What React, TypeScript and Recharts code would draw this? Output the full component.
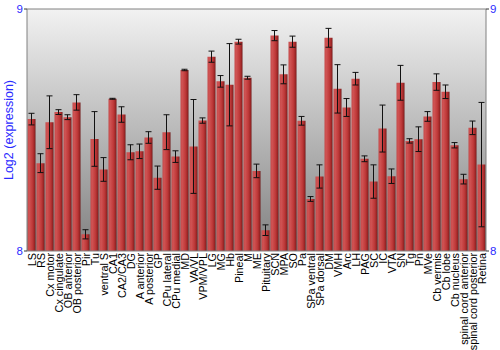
import React from 'react';
import { BarChart, Bar, XAxis, YAxis, ErrorBar, ReferenceLine, CartesianGrid } from 'recharts';

const categories = ['LS','RS','Cx motor','Cx cingulate','OB anterior','OB posterior','Pir','Tu','ventral S','CA1','CA2/CA3','DG','A anterior','A posterior','GP','CPu lateral','CPu medial','MD','VA/VL','VPM/VPL','LG','MG','Hb','Pineal','M','ME','Pituitary','SCN','MPA','SO','Pa','SPa ventral','SPa dorsal','DM','VMH','Arc','LH','PAG','SC','IC','VTA','SN','Tg','Pn','MVe','Cb vermis','Cb lobe','Cb nucleus','spinal cord anterior','spinal cord posterior','Retina'];

const values = [8.545,8.363,8.532,8.574,8.553,8.614,8.069,8.463,8.337,8.629,8.564,8.408,8.412,8.469,8.303,8.491,8.390,8.748,8.432,8.539,8.803,8.701,8.687,8.865,8.716,8.331,8.086,8.890,8.730,8.865,8.538,8.215,8.308,8.881,8.670,8.593,8.712,8.381,8.287,8.506,8.309,8.695,8.455,8.462,8.556,8.698,8.658,8.437,8.297,8.509,8.357];

const errors = [0.024,0.039,0.109,0.010,0.010,0.032,0.019,0.113,0.049,0.002,0.032,0.031,0.030,0.024,0.048,0.072,0.024,0.003,0.194,0.011,0.023,0.024,0.170,0.010,0.006,0.028,0.022,0.021,0.039,0.023,0.018,0.010,0.048,0.039,0.100,0.037,0.026,0.012,0.069,0.097,0.030,0.072,0.009,0.051,0.020,0.034,0.028,0.011,0.020,0.028,0.257];

const yTicks = [8, 9];

const data = categories.map((name, i) => ({ name, value: values[i], err: errors[i] }));

const FONT = '"Liberation Sans", Arial, sans-serif';
const BLUE = '#2b2bff';

const XTick = (props: any) => {
  const { x, y, payload } = props;
  return (
    <text
      x={x}
      y={y}
      transform={`rotate(-90, ${x}, ${y})`}
      textAnchor="end"
      dominantBaseline="central"
      fontSize={10.8}
      fontFamily={FONT}
      fill="#000"
    >
      {payload.value}
    </text>
  );
};

const YLabel = (props: any) => {
  const vb = props.viewBox || {};
  const cy = (vb.y ?? 9) + (vb.height ?? 242) / 2;
  return (
    <text
      x={9}
      y={cy}
      transform={`rotate(-90, 9, ${cy})`}
      textAnchor="middle"
      dominantBaseline="central"
      fontSize={12.5}
      fontFamily={FONT}
      fill={BLUE}
    >
      Log2 (expression)
    </text>
  );
};

export default function App() {
  return (
    <div style={{ position: 'absolute', left: 0, top: 0, width: 500, height: 350, background: '#fff' }}>
      <BarChart
        width={500}
        height={350}
        data={data}
        margin={{ top: 9, right: 0, bottom: 0, left: 0 }}
        barCategoryGap={0.5}
      >
        <defs>
          <linearGradient id="bgGrad" x1="0" y1="0" x2="0" y2="1">
            <stop offset="0%" stopColor="#f2f2f2" />
            <stop offset="100%" stopColor="#818181" />
          </linearGradient>
          <linearGradient id="barGrad" x1="0" y1="0" x2="1" y2="0">
            <stop offset="0%" stopColor="#c44646" />
            <stop offset="20%" stopColor="#d05454" />
            <stop offset="60%" stopColor="#c03a3a" />
            <stop offset="85%" stopColor="#a02828" />
            <stop offset="100%" stopColor="#6e1414" />
          </linearGradient>
        </defs>
        <CartesianGrid yAxisId="left" horizontal={false} vertical={false} fill="url(#bgGrad)" stroke="none" />
        <XAxis
          dataKey="name"
          interval={0}
          height={99}
          tickLine={false}
          tickSize={0}
          tickMargin={2}
          axisLine={{ stroke: '#808080' }}
          tick={<XTick />}
        />
        <YAxis
          yAxisId="left"
          width={27}
          domain={[8, 9]}
          ticks={yTicks}
          allowDataOverflow
          tickSize={3}
          tickMargin={1}
          axisLine={{ stroke: '#808080' }}
          tickLine={{ stroke: '#333' }}
          tick={{ fill: BLUE, fontSize: 11.5, fontFamily: FONT }}
          label={{ content: <YLabel /> }}
        />
        <YAxis
          yAxisId="right"
          orientation="right"
          width={14}
          domain={[8, 9]}
          ticks={yTicks}
          allowDataOverflow
          tickSize={3}
          tickMargin={1}
          axisLine={{ stroke: '#808080' }}
          tickLine={{ stroke: '#333' }}
          tick={{ fill: BLUE, fontSize: 11.5, fontFamily: FONT }}
        />
        <ReferenceLine yAxisId="left" y={9} stroke="#808080" />
        <Bar yAxisId="left" dataKey="value" fill="url(#barGrad)" isAnimationActive={false}>
          <ErrorBar dataKey="err" width={3} stroke="#111" strokeWidth={1} />
        </Bar>
      </BarChart>
    </div>
  );
}
